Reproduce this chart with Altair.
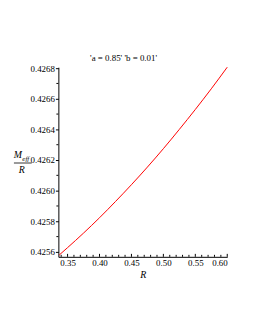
import altair as alt
import pandas as pd

# Curve values
R_vals = [0.337, 0.35, 0.375, 0.40, 0.425, 0.45, 0.475, 0.50, 0.525, 0.55, 0.575, 0.60]
M_vals = [0.425580, 0.425628, 0.425723, 0.425823, 0.425929, 0.426039,
          0.426154, 0.426274, 0.426400, 0.426530, 0.426665, 0.426806]

x_major = [0.35, 0.40, 0.45, 0.50, 0.55, 0.60]
x_minor = [0.34, 0.36, 0.37, 0.38, 0.39, 0.41, 0.42, 0.43, 0.44, 0.46, 0.47,
           0.48, 0.49, 0.51, 0.52, 0.53, 0.54, 0.56, 0.57, 0.58, 0.59]
y_major = [0.4256, 0.4258, 0.4260, 0.4262, 0.4264, 0.4266, 0.4268]
y_minor = [0.4257, 0.4259, 0.4261, 0.4263, 0.4265, 0.4267]

title_text = "'a = 0.85' 'b = 0.01'"

W, H = 171, 192
FONT = "Liberation Serif"

xs = alt.Scale(domain=[0.3356, 0.60], nice=False, zero=False)
ys = alt.Scale(domain=[0.425568, 0.426806], nice=False, zero=False)

xaxis = alt.Axis(
    values=x_major, format=".2f", title="R", titleFont=FONT, titleFontStyle="italic",
    titleFontWeight="normal", titleFontSize=10, titleColor="black", titlePadding=2,
    labelFont=FONT, labelFontSize=9, labelColor="black", labelPadding=2,
    tickSize=0, domainColor="black", grid=False)
yaxis = alt.Axis(
    values=y_major, format=".4f", title=None, labelFont=FONT, labelFontSize=9,
    labelColor="black", labelPadding=1, tickSize=3, tickColor="black",
    domainColor="black", grid=False)

df = pd.DataFrame({"R": R_vals, "M": M_vals})

line = alt.Chart(df).mark_line(color="#ff0000", strokeWidth=1, interpolate="monotone").encode(
    x=alt.X("R:Q", scale=xs, axis=xaxis),
    y=alt.Y("M:Q", scale=ys, axis=yaxis),
)

xmaj = alt.Chart(pd.DataFrame({"R": x_major})).mark_rule(color="black", strokeWidth=1).encode(
    x=alt.X("R:Q", scale=xs, axis=xaxis), y=alt.value(H), y2=alt.value(H - 3))
xmin = alt.Chart(pd.DataFrame({"R": x_minor})).mark_rule(color="black", strokeWidth=1).encode(
    x=alt.X("R:Q", scale=xs, axis=xaxis), y=alt.value(H), y2=alt.value(H - 2))
ymin = alt.Chart(pd.DataFrame({"M": y_minor})).mark_rule(color="black", strokeWidth=1).encode(
    y=alt.Y("M:Q", scale=ys, axis=yaxis), x=alt.value(0), x2=alt.value(-2))

lab = pd.DataFrame({"t": ["x"]})
base = alt.Chart(lab)
num = base.mark_text(text="M", font=FONT, fontStyle="italic", fontSize=10, color="black").encode(
    x=alt.value(-41), y=alt.value(89))
sub = base.mark_text(text="eff", font=FONT, fontStyle="italic", fontSize=7, color="black").encode(
    x=alt.value(-33), y=alt.value(93))
bar = base.mark_rule(color="black", strokeWidth=0.8).encode(
    x=alt.value(-45), x2=alt.value(-27), y=alt.value(97))
den = base.mark_text(text="R", font=FONT, fontStyle="italic", fontSize=10, color="black").encode(
    x=alt.value(-37), y=alt.value(104))
ttl = base.mark_text(text=title_text, font=FONT, fontSize=9, color="black").encode(
    x=alt.value(66), y=alt.value(-9))

chart = alt.layer(line, xmaj, xmin, ymin, num, sub, bar, den, ttl).properties(
    width=W, height=H,
    autosize=alt.AutoSizeParams(type="none"),
    padding={"left": 51, "top": 58, "right": 20, "bottom": 60},
).configure_view(stroke=None)

chart.save("out.html", embed_options={"renderer": "svg", "actions": False})
